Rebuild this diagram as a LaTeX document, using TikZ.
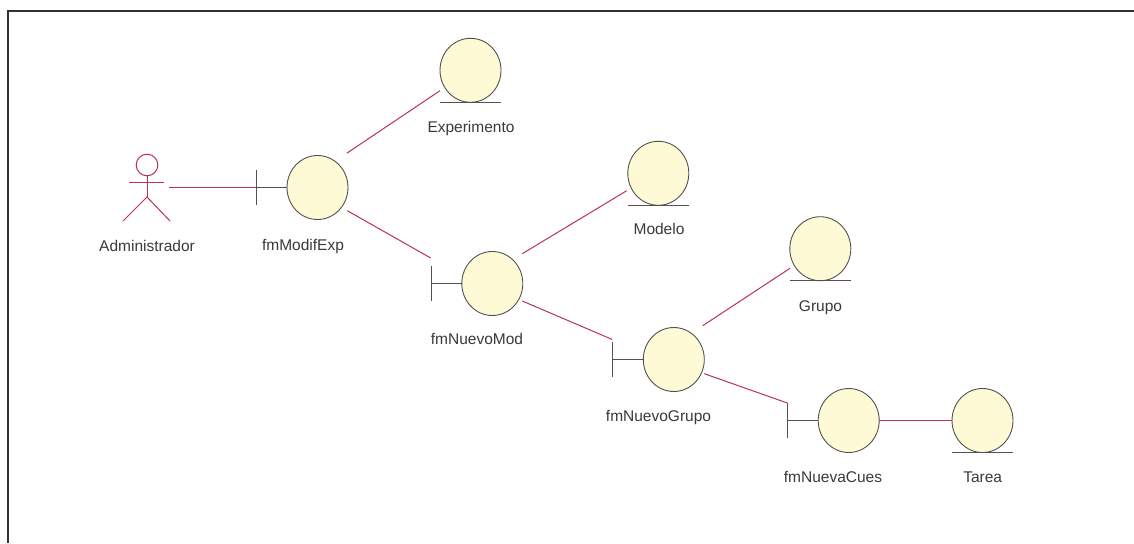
\documentclass[tikz,border=0pt]{standalone}
\usepackage{fontspec}
\usetikzlibrary{shapes.geometric}
\setmainfont{Liberation Sans}
\definecolor{linkred}{RGB}{186,50,80}
\definecolor{boxfill}{RGB}{255,250,214}
\definecolor{inkgrey}{RGB}{85,80,80}
\definecolor{framegrey}{RGB}{50,50,54}
\tikzset{
  x=1pt,y=-1pt,
  ball/.style={ellipse,draw=inkgrey,fill=boxfill,line width=0.9pt,minimum width=61pt,minimum height=64pt,inner sep=0pt,outer sep=0pt},
  under/.style={draw=inkgrey,line width=1pt},
  link/.style={draw=linkred,line width=1pt},
  actorline/.style={draw=linkred,line width=1pt},
  lbl/.style={font=\fontsize{15.5}{18}\selectfont,text=inkgrey!70!black,inner sep=0pt,anchor=center,text height=11pt,text depth=3pt}
}
\begin{document}
\begin{tikzpicture}
\useasboundingbox (0,0) rectangle (1134,543);
% frame
\draw[draw=framegrey,line width=2.2pt] (8,543) -- (8,11) -- (1134,11);
% balls
\node[ball] (fm1) at (317.5,187.5) {};
\node[ball] (fm2) at (492.3,283.5) {};
\node[ball] (fm3) at (673.8,359.5) {};
\node[ball] (fm4) at (848.7,420.5) {};
\node[ball] (exp) at (470.5,70.3) {};
\node[ball] (mod) at (658.3,173.3) {};
\node[ball] (gru) at (820.3,248.7) {};
\node[ball] (tar) at (982.5,420.5) {};
% entity underlines
\foreach \n in {exp,mod,gru,tar}
  \draw[under] ([xshift=-30.5pt]\n.south) -- ([xshift=30.5pt]\n.south);
% boundary bars
\coordinate (bar1) at (256,187.5);
\coordinate (bar2) at (431.3,283.5);
\coordinate (bar3) at (612.7,359.5);
\coordinate (bar4) at (787.3,420.5);
\foreach \bb/\ff in {bar2/fm2,bar3/fm3,bar4/fm4}{
  \draw[under] ([yshift=17.5pt]\bb) -- ([yshift=-17.5pt]\bb);
  \draw[under] (\bb) -- (\ff.west);
}
\draw[under] ([yshift=17.5pt]bar1) -- ([yshift=-17.5pt]bar1);
\draw[under] (bar1) -- (fm1.west);
% actor
\coordinate (head) at (147,165);
\draw[actorline] (head) circle (10.8pt);
\coordinate (neck) at (147,176);
\coordinate (hip) at (147,197);
\coordinate (armL) at (129,182.5);
\coordinate (armR) at (164,182.5);
\coordinate (legL) at (123,221);
\coordinate (legR) at (170,221);
\coordinate (actorhand) at (169,187.8);
\draw[actorline] (neck) -- (hip);
\draw[actorline] (armL) -- (armR);
\draw[actorline] (legL) -- (hip) -- (legR);
% connectors
\draw[link] (actorhand) -- (actorhand -| bar1);
\draw[link] ([shift={(29.2,-34.2)}]fm1.center) -- ([shift={(-30.5,20.4)}]exp.center);
\draw[link] ([shift={(29.8,23.2)}]fm1.center) -- ([shift={(-0.6,-25.5)}]bar2);
\draw[link] ([shift={(30,-29.8)}]fm2.center) -- ([shift={(-31.6,17.4)}]mod.center);
\draw[link] ([shift={(30,17.5)}]fm2.center) -- ([shift={(-0.4,-20)}]bar3);
\draw[link] ([shift={(28.9,-33.8)}]fm3.center) -- ([shift={(-30.3,19.6)}]gru.center);
\draw[link] ([shift={(30.5,14.2)}]fm3.center) -- ([yshift=17.5pt]bar4);
\draw[link] (fm4.east) -- (tar.west);
% labels
\node[lbl] (l0) at (147,247.5) {Administrador};
\node[lbl] (l1) at (303,246) {fmModifExp};
\node[lbl] (l2) at (471,128.5) {Experimento};
\node[lbl] (l3) at (477,340) {fmNuevoMod};
\node[lbl] (l4) at (659,230) {Modelo};
\node[lbl] (l5) at (658.5,417) {fmNuevoGrupo};
\node[lbl] (l6) at (820.5,307) {Grupo};
\node[lbl] (l7) at (833,478.2) {fmNuevaCues};
\node[lbl] (l8) at (982.7,478.2) {Tarea};
\end{tikzpicture}
\end{document}
